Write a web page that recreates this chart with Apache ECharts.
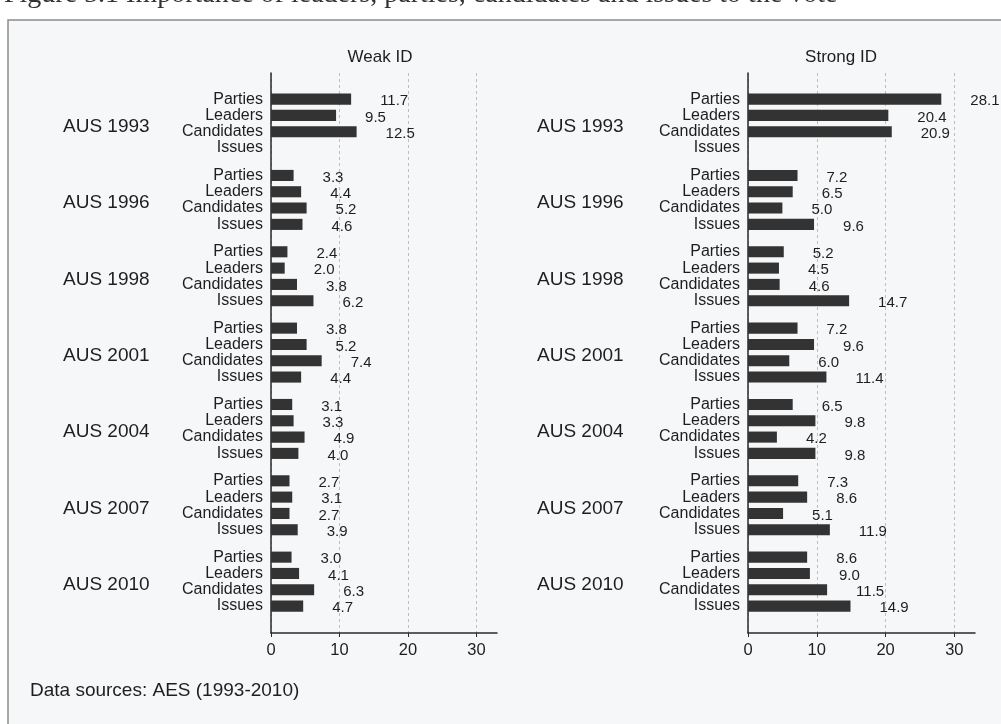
<!DOCTYPE html>
<html>
<head>
<meta charset="utf-8">
<script src="https://cdn.jsdelivr.net/npm/echarts@6/dist/echarts.min.js"></script>
<style>
html, body { margin: 0; padding: 0; background: #ffffff; }
#chart { width: 1001px; height: 724px; }
</style>
</head>
<body>
<div id="chart"></div>
<script>
// Election surveys and the four factors asked about in each
const elections = ['AUS 1993', 'AUS 1996', 'AUS 1998', 'AUS 2001', 'AUS 2004', 'AUS 2007', 'AUS 2010'];
const factors = ['Parties', 'Leaders', 'Candidates', 'Issues'];

// Weak identifiers (%)
const weakParties    = [11.7, 3.3, 2.4, 3.8, 3.1, 2.7, 3.0];
const weakLeaders    = [9.5, 4.4, 2.0, 5.2, 3.3, 3.1, 4.1];
const weakCandidates = [12.5, 5.2, 3.8, 7.4, 4.9, 2.7, 6.3];
const weakIssues     = [null, 4.6, 6.2, 4.4, 4.0, 3.9, 4.7];

// Strong identifiers (%)
const strongParties    = [28.1, 7.2, 5.2, 7.2, 6.5, 7.3, 8.6];
const strongLeaders    = [20.4, 6.5, 4.5, 9.6, 9.8, 8.6, 9.0];
const strongCandidates = [20.9, 5.0, 4.6, 6.0, 4.2, 5.1, 11.5];
const strongIssues     = [null, 9.6, 14.7, 11.4, 9.8, 11.9, 14.9];

const xTicks = [0, 10, 20, 30];
const panelTitles = ['Weak ID', 'Strong ID'];
const sourceNote = 'Data sources: AES (1993-2010)';
const captionText = 'Figure 5.1 Importance of leaders, parties, candidates and issues to the vote';

// ---- layout ----
const SANS = '"Liberation Sans", Arial, Helvetica, sans-serif';
const INK = '#1e1e1e';
const BAR = '#333333';
const GROUP_STEP = 4.68;          // rows per election block incl. gap
const Y_MIN = -1.6;
const Y_MAX = 6 * GROUP_STEP + 3 + 1.65;
const X_MAX = 33;

const rowPos = (g, r) => +(g * GROUP_STEP + r).toFixed(3);
const rowPositions = [];
const rowNames = {};
elections.forEach((e, g) => factors.forEach((f, r) => {
  const p = rowPos(g, r);
  rowPositions.push(p);
  rowNames[p.toFixed(3)] = f;
}));
const groupPositions = elections.map((e, g) => +(g * GROUP_STEP + 1.7).toFixed(3));
const groupNames = {};
groupPositions.forEach((p, g) => { groupNames[p.toFixed(3)] = elections[g]; });

function panelData(cols) {
  const out = [];
  elections.forEach((e, g) => {
    cols.forEach((col, r) => {
      if (col[g] != null) out.push([col[g], rowPos(g, r)]);
    });
  });
  return out;
}
const weakData = panelData([weakParties, weakLeaders, weakCandidates, weakIssues]);
const strongData = panelData([strongParties, strongLeaders, strongCandidates, strongIssues]);

function renderBar(params, api) {
  const v = api.value(0);
  const y = api.value(1);
  const start = api.coord([0, y]);
  const end = api.coord([v, y]);
  const h = api.size([0, 0.68])[1];
  return {
    type: 'group',
    children: [
      { type: 'rect',
        shape: { x: start[0], y: start[1] - h / 2, width: end[0] - start[0], height: h },
        style: { fill: BAR } },
      { type: 'text', x: end[0] + 29, y: end[1] + 2,
        style: { text: v.toFixed(1), fill: INK, font: '15px ' + SANS,
                 align: 'left', verticalAlign: 'middle' } }
    ]
  };
}

const grids = [
  { left: 271, width: 226, top: 73, bottom: 91 },
  { left: 748, width: 227, top: 73, bottom: 91 }
];

function xAxisFor(i) {
  return {
    type: 'value', gridIndex: i, min: 0, max: X_MAX,
    axisLine: { show: true, onZero: false, lineStyle: { color: '#2a2a2a', width: 1.5 } },
    axisTick: { show: true, length: 4, customValues: xTicks, lineStyle: { color: '#2a2a2a' } },
    axisLabel: { customValues: xTicks, color: INK, fontFamily: SANS, fontSize: 16.5, margin: 9 },
    splitLine: { show: true, lineStyle: { color: '#bdbdbd', type: [3, 3], width: 1 } }
  };
}
function rowAxisFor(i) {
  return {
    type: 'value', gridIndex: i, inverse: true, min: Y_MIN, max: Y_MAX,
    axisLine: { show: true, onZero: false, lineStyle: { color: '#2a2a2a', width: 1.5 } },
    axisTick: { show: false },
    splitLine: { show: false },
    axisLabel: {
      customValues: rowPositions, margin: 8, color: INK, fontFamily: SANS, fontSize: 16,
      formatter: v => rowNames[(+v).toFixed(3)] || ''
    }
  };
}
function groupAxisFor(i, offset) {
  return {
    type: 'value', gridIndex: i, inverse: true, min: Y_MIN, max: Y_MAX,
    position: 'left', offset: offset,
    axisLine: { show: false }, axisTick: { show: false }, splitLine: { show: false },
    axisLabel: {
      customValues: groupPositions, margin: 0, align: 'left', color: INK,
      fontFamily: SANS, fontSize: 19,
      formatter: v => groupNames[(+v).toFixed(3)] || ''
    }
  };
}

const option = {
  animation: false,
  backgroundColor: '#ffffff',
  grid: grids,
  xAxis: [xAxisFor(0), xAxisFor(1)],
  yAxis: [rowAxisFor(0), groupAxisFor(0, 208), rowAxisFor(1), groupAxisFor(1, 211)],
  series: [
    { type: 'custom', name: panelTitles[0], xAxisIndex: 0, yAxisIndex: 0,
      renderItem: renderBar, encode: { x: 0, y: 1 }, data: weakData, clip: false },
    { type: 'custom', name: panelTitles[1], xAxisIndex: 1, yAxisIndex: 2,
      renderItem: renderBar, encode: { x: 0, y: 1 }, data: strongData, clip: false }
  ],
  graphic: [
    { type: 'rect', z: -10, shape: { x: 8, y: 20, width: 1100, height: 800 },
      style: { fill: '#f6f7f9', stroke: '#8c8c8c', lineWidth: 1.5 } },
    { type: 'text', x: 4, y: 9,
      style: { text: captionText, fill: '#333', font: '28px "Liberation Serif", "DejaVu Serif", serif',
               verticalAlign: 'bottom' } },
    { type: 'text', x: 380, y: 57,
      style: { text: panelTitles[0], fill: INK, font: '17px ' + SANS, align: 'center', verticalAlign: 'middle' } },
    { type: 'text', x: 841, y: 57,
      style: { text: panelTitles[1], fill: INK, font: '17px ' + SANS, align: 'center', verticalAlign: 'middle' } },
    { type: 'text', x: 30, y: 691,
      style: { text: sourceNote, fill: INK, font: '19px ' + SANS, verticalAlign: 'middle' } }
  ]
};

const chart = echarts.init(document.getElementById('chart'), null, { renderer: 'canvas' });
chart.setOption(option);
</script>
</body>
</html>
